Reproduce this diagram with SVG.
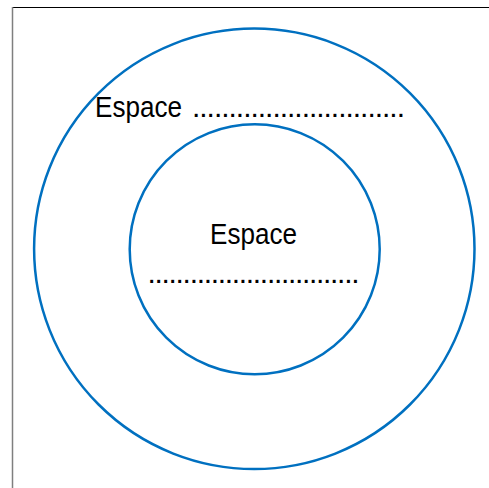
<svg xmlns="http://www.w3.org/2000/svg" width="489" height="488" viewBox="0 0 489 488">
<style>
.ring{fill:none;stroke:#0070C0;stroke-width:2.5}
.t{font-family:"Liberation Sans",Arial,sans-serif;font-size:29px;fill:#000}
.d{font-family:"Liberation Sans",Arial,sans-serif;font-size:30px;fill:#000}
</style>
<rect width="489" height="488" fill="#fff"/>
<g id="frame">
<line x1="12" y1="7.5" x2="489" y2="7.5" stroke="#000" stroke-width="1"/>
<line x1="12.5" y1="7" x2="12.5" y2="488" stroke="#7f7f7f" stroke-width="1.5"/>
</g>
<g id="outer">
<circle class="ring" cx="254.3" cy="248.8" r="220.2"/>
<text class="t" x="95" y="117.3" textLength="87" lengthAdjust="spacingAndGlyphs">Espace</text>
<text class="d" x="192" y="117.3" textLength="213" lengthAdjust="spacing">.............................</text>
</g>
<g id="inner">
<circle class="ring" cx="254.7" cy="249.3" r="125"/>
<text class="t" x="210" y="244.3" textLength="87" lengthAdjust="spacingAndGlyphs">Espace</text>
<text class="d" x="147.5" y="283" textLength="212" lengthAdjust="spacing">..............................</text>
</g>
</svg>
